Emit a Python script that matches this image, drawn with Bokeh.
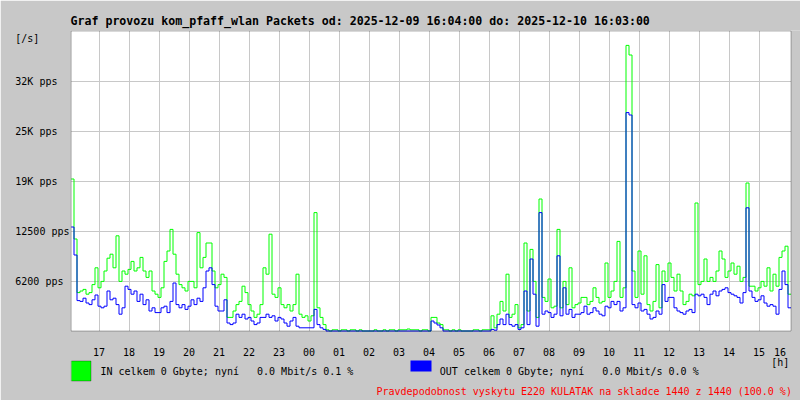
from bokeh.plotting import figure
from bokeh.models import Range1d, FixedTicker, Label, BoxAnnotation, Title
from bokeh.core.properties import value
from bokeh.embed import file_html
from bokeh.resources import INLINE

# ---------------- data ----------------
title_text = "Graf provozu kom_pfaff_wlan Packets od: 2025-12-09 16:04:00 do: 2025-12-10 16:03:00"
start_hour = 16 + 4 / 60      # 2025-12-09 16:04
end_hour = 40 + 4 / 60        # 2025-12-10 16:04
sample_h = 0.1                # 6-minute samples

in_pps = [
    19000, 11500, 4800, 5000, 5200, 4600, 4800, 5800, 7900, 5400,
    6200, 7500, 9100, 9600, 7900, 11900, 6200, 7500, 7100, 7700,
    8700, 7500, 7900, 9200, 7500, 6700, 7500, 5000, 4600, 4200,
    5400, 8700, 10000, 12700, 9600, 7100, 5800, 5400, 5000, 6200,
    6200, 5400, 12300, 7900, 9200, 11000, 11000, 7500, 5400, 5800,
    7100, 6700, 1700, 1700, 2500, 3300, 3700, 5600, 4800, 3300,
    2500, 1700, 2100, 3300, 7900, 7100, 12100, 4600, 4200, 5400,
    3300, 2900, 3300, 2500, 3300, 7100, 2100, 1700, 1900, 1250,
    1900, 14800, 2900, 1700, 800, 150, 0, 150, 150, 0,
    150, 150, 0, 150, 150, 0, 150, 0, 0, 0,
    0, 150, 0, 0, 150, 0, 150, 150, 0, 150,
    150, 150, 250, 150, 150, 150, 0, 150, 150, 0,
    1700, 1700, 1000, 800, 150, 150, 0, 150, 0, 150,
    0, 0, 0, 0, 150, 150, 0, 150, 150, 150,
    1900, 400, 2100, 3700, 2500, 7100, 1700, 2100, 3300, 400,
    800, 11000, 2500, 10200, 6200, 1700, 16500, 4200, 3700, 6500,
    2900, 3100, 12700, 2900, 6200, 3300, 7900, 2900, 3300, 3500,
    4200, 4200, 3300, 3700, 5400, 4200, 3500, 3700, 8500, 4200,
    5000, 6200, 11200, 4200, 5400, 35700, 34500, 7500, 4200, 10000,
    4600, 9400, 3300, 2500, 3700, 8300, 2900, 7500, 6200, 8500,
    6700, 5000, 7100, 5000, 3300, 3700, 4600, 4400, 16000, 5800,
    6200, 9000, 6200, 6700, 6200, 7500, 10000, 9000, 6700, 7500,
    8500, 7100, 8100, 6200, 6700, 18500, 5600, 5600, 5000, 5400,
    6200, 5600, 7900, 5000, 7100, 5600, 9200, 10000, 10600, 4600,
]

out_pps = [
    13000, 9500, 3800, 3700, 4100, 3500, 3300, 3900, 4500, 3100,
    2900, 3100, 5000, 3900, 4100, 3300, 2100, 2900, 5600, 5200,
    4600, 5000, 3700, 4600, 3300, 3900, 2500, 2900, 2300, 2300,
    2900, 3100, 2300, 3700, 6000, 3300, 2900, 3300, 2700, 3100,
    3900, 3300, 4100, 3700, 5400, 7500, 7900, 5800, 3100, 2500,
    2500, 3900, 1000, 800, 1000, 2100, 1700, 2100, 1500, 1700,
    1250, 800, 1000, 1700, 1700, 2100, 1700, 1900, 1250, 1700,
    1500, 1000, 600, 1250, 1700, 600, 400, 400, 400, 400,
    400, 2700, 800, 400, 200, 0, 0, 0, 0, 0,
    0, 0, 0, 0, 0, 0, 0, 0, 0, 0,
    0, 0, 0, 0, 0, 0, 0, 0, 0, 0,
    0, 0, 0, 0, 0, 0, 0, 0, 0, 0,
    1250, 1000, 750, 400, 0, 0, 0, 0, 0, 0,
    0, 0, 0, 0, 0, 0, 0, 0, 0, 0,
    200, 100, 800, 1500, 800, 2100, 800, 600, 800, 200,
    400, 5000, 800, 9000, 4600, 600, 14800, 2100, 2500, 2300,
    1700, 2100, 9400, 1900, 5400, 2100, 2700, 1700, 2100, 2100,
    2300, 3100, 2100, 2300, 2900, 2500, 2100, 1900, 3100, 2900,
    3700, 3300, 3700, 2500, 2900, 27300, 27000, 3300, 2900, 3500,
    2500, 2700, 2100, 1500, 1700, 2500, 2100, 5800, 3700, 4200,
    4200, 2900, 2500, 2300, 2100, 2500, 2700, 2300, 4600, 4400,
    4600, 4200, 3300, 4600, 5000, 4400, 5000, 5200, 5400, 4800,
    4600, 4400, 4200, 3500, 4800, 15400, 5000, 4200, 3700, 3900,
    4400, 3500, 3100, 3300, 3100, 2100, 5200, 7500, 5800, 2900,
]

hour_ticks = list(range(17, 40))
hour_labels = [f"{h % 24:02d}" for h in hour_ticks]
last_hour_tick = 39.7          # "16" label is pulled in from the right edge
last_hour_label = "16"
y_ticks = [6250, 12500, 18750, 25000, 31250]
y_tick_labels = ["6200 pps", "12500 pps", "19K pps", "25K pps", "32K pps"]
unit_tick = 36560              # "[/s]" sits just under the top edge
unit_y = "[/s]"
unit_x = "[h]"
y_max = 37500
NB = "\u00a0"
in_legend = "IN celkem 0 Gbyte; nyní" + NB * 3 + "0.0 Mbit/s 0.1 %"
out_legend = "OUT celkem 0 Gbyte; nyní" + NB * 3 + "0.0 Mbit/s 0.0 %"
note_text = "Pravdepodobnost vyskytu E220 KULATAK na skladce 1440 z 1440 (100.0 %)"

# ---------------- layout / styling ----------------
BG = "#c8c8c8"
GRID = "#c8c8c8"
GREEN = "#00ff00"
BLUE = "#0000ff"
MONO = "DejaVu Sans Mono"
PX_PER_H = 30.0               # 720 px for 24 h
PPS_PER_PX = 125.0            # 300 px for 37500 pps
FRAME_W, FRAME_H = 730, 370   # chart box + grey strip right / grey area below
LEFT_SHIFT_PX = 0.5           # put data on pixel centres (crisp 1px lines)
BOTTOM_PX = 69.5              # grey area under the zero line

def pad(s, n=9):
    return s + NB * (n - len(s))

hours = [start_hour + sample_h * i for i in range(len(in_pps))] + [end_hour]
in_vals = in_pps + [in_pps[-1]]
out_vals = out_pps + [out_pps[-1]]

x0 = start_hour - LEFT_SHIFT_PX / PX_PER_H
y0 = -BOTTOM_PX * PPS_PER_PX
p = figure(width=800, height=400, output_backend="svg", toolbar_location=None,
           x_range=Range1d(x0, x0 + FRAME_W / PX_PER_H),
           y_range=Range1d(y0, y0 + FRAME_H * PPS_PER_PX),
           min_border_left=70, min_border_right=0, min_border_top=30, min_border_bottom=0)
p.title = Title(text=title_text, align="left", offset=0, standoff=6, vertical_align="bottom",
                text_font=MONO, text_font_size="11.6px", text_font_style="bold",
                text_color="black")
p.background_fill_color = BG
p.border_fill_color = BG
p.outline_line_color = None
p.outline_line_alpha = 0

p.xaxis.visible = False

# y axis (monospace labels padded to equal width -> left edges line up)
yt = y_ticks + [unit_tick]
yl = [pad(s) for s in y_tick_labels + [unit_y]]
p.yaxis.ticker = FixedTicker(ticks=yt)
p.yaxis.major_label_overrides = {t: s for t, s in zip(yt, yl)}
p.yaxis.major_tick_out = 0
p.yaxis.major_tick_in = 0
p.yaxis.minor_tick_out = 0
p.yaxis.minor_tick_in = 0
p.yaxis.major_tick_line_color = None
p.yaxis.minor_tick_line_color = None
p.yaxis.axis_line_color = BG          # grey line hides the seam at the frame edge
p.yaxis.axis_line_width = 1.5
p.yaxis.major_label_text_font = MONO
p.yaxis.major_label_text_font_size = "10px"
p.yaxis.major_label_text_color = "black"
p.yaxis.major_label_standoff = 1

p.xgrid.ticker = FixedTicker(ticks=hour_ticks)
p.ygrid.ticker = FixedTicker(ticks=y_ticks)
p.grid.grid_line_color = GRID
p.grid.grid_line_width = 1

# white chart area, drawn before the grid lines
chart_bg = BoxAnnotation(left=start_hour, right=end_hour, bottom=0, top=y_max,
                         fill_color="white", fill_alpha=1, line_color=None, level="underlay")
p.center = [chart_bg] + list(p.center)

# data
p.step(hours, in_vals, mode="after", line_color=GREEN, line_width=1)
p.step(hours, out_vals, mode="after", line_color=BLUE, line_width=1)

# grey cover for anything under the chart's left edge below the zero line
p.add_layout(BoxAnnotation(right=0.9, top=69.0, right_units="screen", top_units="screen",
                           fill_color=BG, fill_alpha=1, line_color=None, level="overlay"))

# chart border (screen units relative to frame: sx = 70 + x, sy = 400 - y)
p.add_layout(BoxAnnotation(left=0.5, right=720.5, top=369.5, bottom=69.5,
                           left_units="screen", right_units="screen",
                           top_units="screen", bottom_units="screen",
                           fill_color=None, line_color="black", line_width=1, level="overlay"))

# hour labels under the chart
xt = hour_ticks + [last_hour_tick]
xl = hour_labels + [last_hour_label]
p.text(x=xt, y=[0] * len(xt), text=xl, text_font=value(MONO), text_font_size=value("10px"),
       text_color="black", text_align="center", text_baseline="alphabetic", y_offset=21)

def lab(text, x, y, color="black"):
    p.add_layout(Label(x=x, y=y, x_units="screen", y_units="screen", text=text,
                       text_font=MONO, text_font_size="10px", text_color=color,
                       text_baseline="alphabetic", text_align="left"))

lab(unit_x, 700.7, 38.3)

# legend
p.add_layout(BoxAnnotation(left=0.5, right=20.5, top=39.5, bottom=19.5,
                           left_units="screen", right_units="screen",
                           top_units="screen", bottom_units="screen",
                           fill_color=GREEN, fill_alpha=1, line_color="black", line_width=1))
p.add_layout(BoxAnnotation(left=340, right=361, top=40, bottom=29,
                           left_units="screen", right_units="screen",
                           top_units="screen", bottom_units="screen",
                           fill_color=BLUE, fill_alpha=1, line_color=None))
lab(in_legend, 30, 29)
lab(out_legend, 369.3, 29)
lab(note_text, 306, 9.5, color="#ff0000")

open("out.html", "w").write(file_html(p, INLINE))
